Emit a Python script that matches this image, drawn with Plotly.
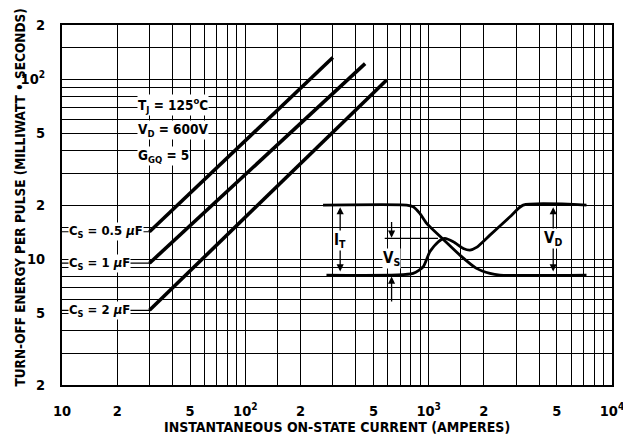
import math
import plotly.graph_objects as go

# Turn-off energy per pulse vs. on-state current, one line per snubber capacitance
cs_values = ["0.5", "1", "2"]
current_start = [30, 30, 30]          # amperes
current_end = [300, 450, 590]         # amperes
energy_start = [14.2, 9.5, 5.2]       # milliwatt-seconds
energy_end = [132, 122, 99]           # milliwatt-seconds

# Axis grid values and labels
x_grid = [10, 20, 30, 40, 50, 60, 70, 80, 90,
          100, 150, 200, 300, 400, 500, 600, 700, 800, 900,
          1000, 1500, 2000, 3000, 4000, 5000, 6000, 7000, 8000, 9000, 10000]
x_labels = {10: "10", 20: "2", 50: "5", 100: "10<sup>2</sup>", 200: "2", 500: "5",
            1000: "10<sup>3</sup>", 2000: "2", 5000: "5", 10000: "10<sup>4</sup>"}
y_grid = [2, 3, 4, 5, 6, 7, 8, 9, 10, 15, 20, 30, 40, 50, 60, 70, 80, 90, 100, 150, 200]
y_labels = {2: "2", 5: "5", 10: "10", 20: "2", 50: "5", 100: "10<sup>2</sup>", 200: "2"}

# Test conditions block
conditions = ["T<sub>J</sub> = 125<sup>o</sup>C", "V<sub>D</sub> = 600V", "G<sub>GQ</sub> = 5"]
cond_current = 25.5
cond_energy = [72, 52, 37.4]

# Inset waveform (normalised time 0..1, level 0..1)
it_t = [0.0, 0.317, 0.342, 0.367, 0.393, 0.456, 0.519, 0.582, 0.633, 0.671, 1.0]
it_lv = [1.0, 1.0, 0.976, 0.881, 0.739, 0.51, 0.286, 0.096, 0.024, 0.0, 0.0]
v_t = [0.013, 0.342, 0.38, 0.405, 0.437, 0.462, 0.494, 0.532, 0.557, 0.582, 0.633, 0.709, 0.759, 1.0]
v_lv = [0.0, 0.024, 0.119, 0.333, 0.476, 0.524, 0.476, 0.381, 0.357, 0.396, 0.571, 0.833, 1.0, 1.0]
spike_ref_t = [0.234, 0.436]
spike_level = 0.524

FONT = "DejaVu Sans Condensed, Liberation Sans Narrow, Arial Narrow, Liberation Sans, Arial"
BLACK = "#000000"

fig = go.Figure()

# Main characteristic lines with label leaders running from the axis
for cs, i0, i1, e0, e1 in zip(cs_values, current_start, current_end, energy_start, energy_end):
    fig.add_trace(go.Scatter(x=[10, i0], y=[e0, e0], mode="lines",
                             line=dict(color=BLACK, width=1.2), hoverinfo="skip",
                             showlegend=False))
    fig.add_trace(go.Scatter(x=[i0, i1], y=[e0, e1], mode="lines",
                             line=dict(color=BLACK, width=3.6), showlegend=False,
                             name=f"C_S = {cs} µF"))
    fig.add_annotation(x=math.log10(10.8), y=math.log10(e0), xref="x", yref="y",
                       text=f"C<sub>S</sub> = {cs} <i>µ</i>F", showarrow=False,
                       xanchor="left", yanchor="middle", bgcolor="white", borderpad=0,
                       font=dict(family=FONT, size=13, color=BLACK, weight="bold"))

for txt, e in zip(conditions, cond_energy):
    fig.add_annotation(x=math.log10(cond_current), y=math.log10(e), xref="x", yref="y",
                       text=txt, showarrow=False, xanchor="left", yanchor="middle",
                       bgcolor="white", borderpad=0,
                       font=dict(family=FONT, size=13.5, color=BLACK, weight="bold"))

# Inset: current and voltage during turn-off
fig.add_trace(go.Scatter(x=it_t, y=it_lv, xaxis="x2", yaxis="y2", mode="lines",
                         line=dict(color=BLACK, width=2.8, shape="spline", smoothing=0.6),
                         showlegend=False, name="I_T"))
fig.add_trace(go.Scatter(x=v_t, y=v_lv, xaxis="x2", yaxis="y2", mode="lines",
                         line=dict(color=BLACK, width=2.8, shape="spline", smoothing=0.6),
                         showlegend=False, name="V"))
fig.add_trace(go.Scatter(x=spike_ref_t, y=[spike_level, spike_level], xaxis="x2", yaxis="y2",
                         mode="lines", line=dict(color=BLACK, width=1.2), showlegend=False,
                         hoverinfo="skip"))

arrow_style = dict(xref="x2", yref="y2", axref="x2", ayref="y2", showarrow=True,
                   arrowhead=2, arrowsize=1.1, arrowwidth=1.3, arrowcolor=BLACK, text="")
# I_T and V_D: double-headed spans between the two levels
for t in (0.065, 0.873):
    fig.add_annotation(x=t, y=0.97, ax=t, ay=0.03, arrowside="end+start", **arrow_style)
# V_S: arrows pointing in to the spike height
vs_t = 0.26
fig.add_annotation(x=vs_t, y=spike_level + 0.01, ax=vs_t, ay=0.78, **arrow_style)
fig.add_annotation(x=vs_t, y=-0.02, ax=vs_t, ay=-0.4, **arrow_style)

inset_font = dict(family=FONT, size=15, color=BLACK, weight="bold")
for txt, t, lv in (("I<sub>T</sub>", 0.065, 0.5), ("V<sub>S</sub>", vs_t, 0.24),
                   ("V<sub>D</sub>", 0.873, 0.52)):
    fig.add_annotation(x=t, y=lv, xref="x2", yref="y2", text=txt, showarrow=False,
                       bgcolor="white", borderpad=0, font=inset_font)

# Axis titles
fig.add_annotation(x=0.5, y=-0.118, xref="paper", yref="paper", yanchor="middle",
                   text="INSTANTANEOUS ON-STATE CURRENT (AMPERES)", showarrow=False,
                   font=dict(family=FONT, size=14, color=BLACK, weight="bold"))
fig.add_annotation(x=-0.095, y=0.52, xref="paper", yref="paper", textangle=-90,
                   text="TURN-OFF ENERGY PER PULSE (MILLIWATT • SECONDS)", showarrow=False,
                   font=dict(family=FONT, size=13.5, color=BLACK, weight="bold"))

tick_font = dict(family=FONT, size=14.5, color=BLACK, weight="bold")
fig.update_layout(
    width=623, height=439,
    margin=dict(l=62, r=11, t=25, b=54),
    paper_bgcolor="white", plot_bgcolor="rgba(0,0,0,0)",
    showlegend=False,
    xaxis=dict(type="log", range=[1, 4], tickvals=x_grid,
               ticktext=[x_labels.get(v, "") for v in x_grid],
               showgrid=True, gridcolor=BLACK, gridwidth=1.3,
               showline=True, linecolor=BLACK, linewidth=2, mirror=True,
               ticks="", ticklabelstandoff=12, tickfont=tick_font, zeroline=False,
               automargin=False, ticklabeloverflow="allow"),
    yaxis=dict(type="log", range=[math.log10(2), math.log10(200)], tickvals=y_grid,
               ticktext=[y_labels.get(v, "") for v in y_grid],
               showgrid=True, gridcolor=BLACK, gridwidth=1.3,
               showline=True, linecolor=BLACK, linewidth=2, mirror=True,
               ticks="", ticklabelstandoff=12, tickfont=tick_font, zeroline=False,
               automargin=False, ticklabeloverflow="allow"),
    xaxis2=dict(domain=[0.4746, 0.954], range=[0, 1], anchor="y2", visible=False,
                fixedrange=True),
    yaxis2=dict(domain=[0.111, 0.694], range=[-1, 2], anchor="x2", visible=False,
                fixedrange=True),
)

fig.write_html("out.html")
